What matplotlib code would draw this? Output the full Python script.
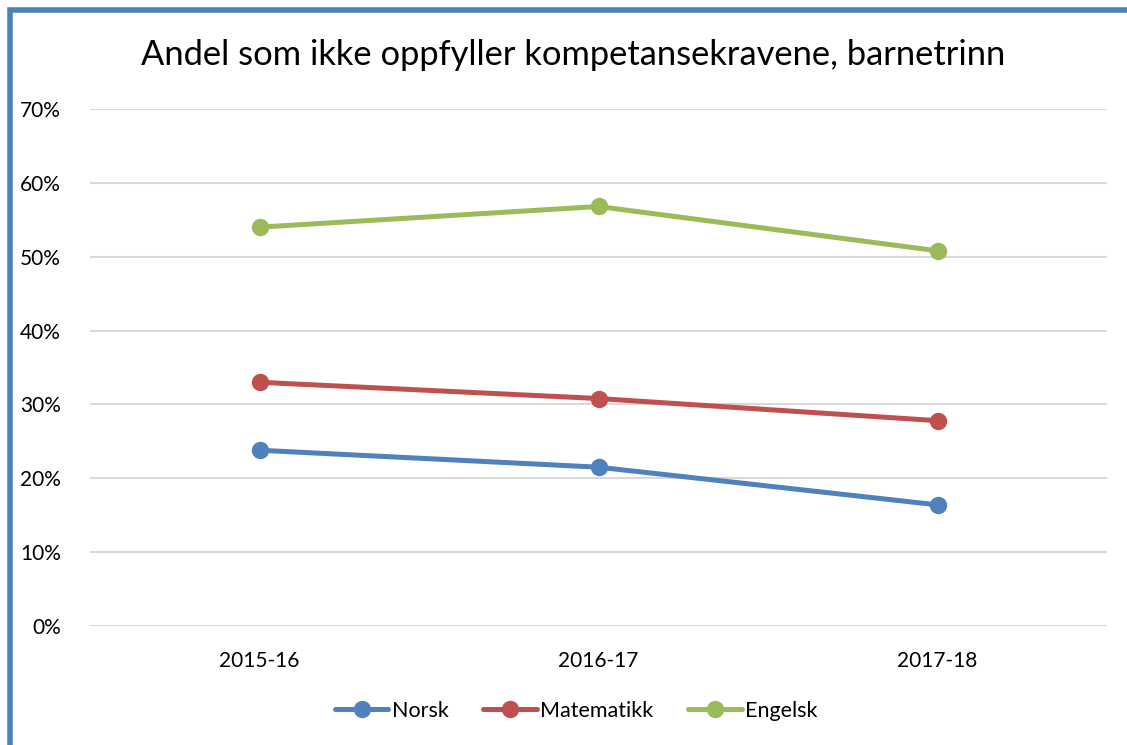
import matplotlib
matplotlib.use("Agg")
import matplotlib.pyplot as plt
from matplotlib.patches import Rectangle
from matplotlib.ticker import FuncFormatter

categories = ["2015-16", "2016-17", "2017-18"]
norsk = [23.8, 21.5, 16.4]
matematikk = [33.0, 30.8, 27.8]
engelsk = [54.0, 56.8, 50.8]
series_names = ["Norsk", "Matematikk", "Engelsk"]
colors = ["#4F81BD", "#C0504D", "#9BBB59"]
yticks = [0, 10, 20, 30, 40, 50, 60, 70]

plt.rcParams['font.family'] = ['Lato', 'DejaVu Sans']

W, H = 1127, 745
fig = plt.figure(figsize=(W/100, H/100), dpi=100)
ax = fig.add_axes([90/W, 1-626/H, (1107-90)/W, (626-109)/H])

x = list(range(len(categories)))
for vals, name, c in zip([norsk, matematikk, engelsk], series_names, colors):
    ax.plot(x, vals, color=c, lw=3.6, marker='o', markersize=11.5,
            label=name, solid_capstyle='round', zorder=3)

ax.set_xlim(-0.5, 2.5)
ax.set_ylim(0, 70)
ax.set_yticks(yticks)
ax.yaxis.set_major_formatter(FuncFormatter(lambda v, p: f"{int(v)}%"))
ax.set_xticks(x)
ax.set_xticklabels(categories)
ax.grid(axis='y', color='#D9D9D9', lw=1.5, zorder=0)
ax.set_axisbelow(True)
for s in ax.spines.values():
    s.set_visible(False)
ax.tick_params(axis='both', length=0, labelsize=15, colors='#000000')
ax.tick_params(axis='y', pad=21)
ax.tick_params(axis='x', pad=18)

fig.text(573/W, 1-55/H, "Andel som ikke oppfyller kompetansekravene, barnetrinn",
         ha='center', va='center', fontsize=24.8)

leg = fig.legend(loc='center', bbox_to_anchor=(576/W, 1-711/H), ncol=3,
                 frameon=False, fontsize=15.5, handlelength=2.5,
                 columnspacing=1.6, handletextpad=0.15)

# blue frame (partially outside the image)
fig.patches.append(Rectangle((9.5/W, -0.1), 1.2, 1-9.5/H+0.1,
                             transform=fig.transFigure, fill=False,
                             edgecolor='#4F81BD', lw=4, zorder=10))

fig.savefig("out.png", dpi=100)
